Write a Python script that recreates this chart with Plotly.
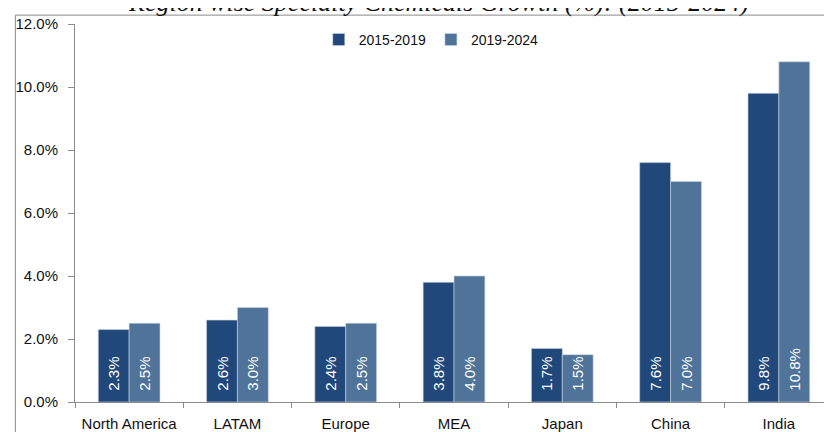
import plotly.graph_objects as go

regions = ['North America', 'LATAM', 'Europe', 'MEA', 'Japan', 'China', 'India']
growth_2015_2019 = [2.3, 2.6, 2.4, 3.8, 1.7, 7.6, 9.8]
growth_2019_2024 = [2.5, 3.0, 2.5, 4.0, 1.5, 7.0, 10.8]
series_names = ['2015-2019', '2019-2024']
y_ticks = [0, 2, 4, 6, 8, 10, 12]
y_tick_labels = ['0.0%', '2.0%', '4.0%', '6.0%', '8.0%', '10.0%', '12.0%']
title_text = 'Region wise Specialty Chemicals Growth (%): (2015-2024)'

colors = ['#21487B', '#50739A']

fig = go.Figure()

for name, vals, col in zip(series_names, [growth_2015_2019, growth_2019_2024], colors):
    fig.add_trace(go.Bar(
        x=regions,
        y=vals,
        name=name,
        marker=dict(color=col, line=dict(color='#c9d3df', width=0.6)),
        text=['\u00a0\u00a0' + f'{v:.1f}%' for v in vals],
        textposition='inside',
        insidetextanchor='start',
        constraintext='none',
        textangle=-90,
        textfont=dict(color='white', size=15, family='Liberation Sans'),
    ))

# 外枠（左上のみ見える）
fig.add_shape(
    type='rect', xref='paper', yref='paper',
    x0=-0.0787, x1=1.2, y0=-0.3, y1=1.0235,
    line=dict(color='#8a8a8a', width=1), layer='below'
)

# 上端で切れているタイトル
fig.add_annotation(
    x=0.48, y=1, xref='paper', yref='paper',
    xanchor='center', yanchor='bottom', yshift=5,
    text='<i>' + title_text + '</i>', showarrow=False,
    font=dict(family='Liberation Serif', size=26, color='#111')
)

fig.update_layout(
    width=832,
    height=432,
    margin=dict(l=62, r=7, t=11, b=38),
    barmode='group',
    bargap=0.43,
    bargroupgap=0,
    plot_bgcolor='white',
    paper_bgcolor='white',
    font=dict(family='Liberation Sans', size=14, color='#111'),
    showlegend=True,
    legend=dict(
        orientation='h', x=0.47, y=0.958, xanchor='center', yanchor='middle',
        font=dict(size=14), bgcolor='rgba(0,0,0,0)', traceorder='normal',
        itemwidth=30,
    ),
    xaxis=dict(
        showline=True, linecolor='#8a8a8a', linewidth=1,
        ticks='outside', tickson='boundaries', ticklen=5, tickcolor='#8a8a8a',
        ticklabelstandoff=8,
        showgrid=False, tickfont=dict(size=15, color='#111'),
    ),
    yaxis=dict(
        range=[0, 12], tickvals=y_ticks, ticktext=y_tick_labels,
        showline=True, linecolor='#8a8a8a', linewidth=1,
        ticks='outside', ticklen=6, tickcolor='#8a8a8a', ticklabelstandoff=7,
        showgrid=False, zeroline=False, tickfont=dict(size=15, color='#111'),
    ),
)

fig.write_html('out.html')
